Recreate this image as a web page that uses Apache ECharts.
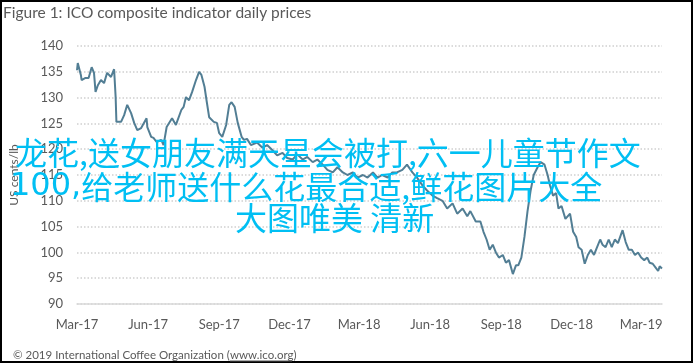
<!DOCTYPE html>
<html>
<head>
<meta charset="utf-8">
<script src="https://cdn.jsdelivr.net/npm/echarts@6/dist/echarts.min.js"></script>
<style>
html,body{margin:0;padding:0;background:#fff;}
#chart{width:695px;height:364px;}
</style>
</head>
<body>
<div id="chart"></div>
<script>
// ---- data ----
const titleText = 'Figure 1: ICO composite indicator daily prices';
const yAxisName = 'US cents/lb';
const footerText = '© 2019 International Coffee Organization (';
const footerLink = 'www.ico.org';
const overlayLine1 = '龙花,送女朋友满天星会被打,六一儿童节作文';
const overlayLine2a = '100,';
const overlayLine2b = '给老师送什么花最合适,鲜花图片大全';
const overlayLine3 = '大图唯美 清新';

const tickDates = ['2017-03-01','2017-06-01','2017-09-01','2017-12-01','2018-03-01','2018-06-01','2018-09-01','2018-12-01','2019-03-01'];
const tickLabels = ['Mar-17','Jun-17','Sep-17','Dec-17','Mar-18','Jun-18','Sep-18','Dec-18','Mar-19'];
const yMin = 90, yMax = 140, yStep = 5;

const dates = [
'2017-03-01','2017-03-02','2017-03-06','2017-03-07','2017-03-12','2017-03-16','2017-03-20','2017-03-23','2017-03-25','2017-03-28',
'2017-04-01','2017-04-05','2017-04-09','2017-04-14','2017-04-18','2017-04-20','2017-04-21','2017-04-27','2017-05-01','2017-05-05',
'2017-05-10','2017-05-14','2017-05-18','2017-05-23','2017-05-30','2017-05-31','2017-06-05','2017-06-08','2017-06-12','2017-06-18',
'2017-06-21','2017-06-25','2017-07-02','2017-07-07','2017-07-14','2017-07-17','2017-07-20','2017-07-24','2017-07-28','2017-08-02',
'2017-08-06','2017-08-09','2017-08-13','2017-08-16','2017-08-19','2017-08-25','2017-08-29','2017-09-01','2017-09-05','2017-09-10',
'2017-09-14','2017-09-17','2017-09-21','2017-09-25','2017-09-30','2017-10-03','2017-10-07','2017-10-12','2017-10-20','2017-10-27',
'2017-11-02','2017-11-09','2017-11-15','2017-11-22','2017-11-28','2017-12-05','2017-12-11','2017-12-18','2017-12-24','2017-12-31',
'2018-01-06','2018-01-13','2018-01-19','2018-01-26','2018-02-01','2018-02-08','2018-02-14','2018-02-21','2018-02-27','2018-03-06',
'2018-03-12','2018-03-19','2018-03-25','2018-03-31','2018-04-07','2018-04-13','2018-04-19','2018-04-26','2018-05-02','2018-05-09',
'2018-05-15','2018-05-22','2018-05-28','2018-06-04','2018-06-10','2018-06-17','2018-06-23','2018-06-30','2018-07-06','2018-07-13',
'2018-07-19','2018-07-23','2018-07-30','2018-08-05','2018-08-09','2018-08-13','2018-08-17','2018-08-21','2018-08-25','2018-08-29',
'2018-09-03','2018-09-07','2018-09-11','2018-09-16','2018-09-20','2018-09-23','2018-09-27','2018-10-01','2018-10-05','2018-10-09',
'2018-10-13','2018-10-18','2018-10-22','2018-10-27','2018-10-31','2018-11-03','2018-11-07','2018-11-11','2018-11-14','2018-11-18',
'2018-11-23','2018-11-29','2018-12-03','2018-12-07','2018-12-10','2018-12-14','2018-12-18','2018-12-22','2018-12-26','2018-12-30',
'2019-01-03','2019-01-07','2019-01-10','2019-01-14','2019-01-18','2019-01-22','2019-01-26','2019-01-30','2019-02-03','2019-02-05',
'2019-02-09','2019-02-13','2019-02-17','2019-02-21','2019-02-25','2019-03-01','2019-03-05','2019-03-09','2019-03-12','2019-03-16',
'2019-03-20','2019-03-23','2019-03-25','2019-03-28'
];
const prices = [
135.3,136.7,134.4,133.4,133.8,133.8,135.9,134.8,131.1,132.4,
133.4,132.8,134.8,134.0,135.5,130.1,125.3,125.3,126.6,128.6,
127.0,125.1,123.7,124.1,126.0,124.3,122.4,122.2,121.4,121.8,
120.8,124.3,126.0,124.7,127.6,128.2,130.1,129.5,131.1,133.4,
135.0,134.4,132.1,129.1,126.2,125.3,125.1,123.1,122.4,124.7,
128.6,129.1,128.2,125.1,122.4,121.8,122.0,120.8,121.3,120.3,
120.8,119.8,118.8,119.3,118.3,118.0,119.0,118.0,118.5,117.5,
118.0,117.0,116.0,115.5,116.5,115.5,115.0,115.5,114.5,115.0,
114.5,115.5,114.5,115.0,114.5,115.5,115.5,116.0,117.0,115.5,
114.5,113.0,112.0,111.0,110.5,110.0,108.5,109.5,107.5,108.5,
107.0,108.0,106.0,106.0,104.0,102.5,100.5,101.5,100.0,99.0,
99.5,98.0,98.5,95.8,97.5,97.5,99.0,103.0,108.0,112.0,
115.0,116.5,117.5,117.0,115.0,113.0,111.0,111.5,108.5,109.0,
106.5,107.5,104.0,103.0,101.0,100.5,97.8,99.5,100.5,99.5,
101.0,102.5,101.5,101.0,102.5,101.0,102.5,101.8,103.5,104.3,
102.0,100.5,100.5,99.5,100.0,99.0,98.5,99.0,98.0,97.8,
97.0,96.4,97.3,96.9
];

// ---- chart ----
function toTime(s){ const p = s.split('-'); return Date.UTC(+p[0], +p[1]-1, +p[2]); }
const tickTimes = tickDates.map(toTime);
const seriesData = dates.map((d,i)=>[toTime(d), prices[i]]);

const gray = '#595959';
const latin = 'Lato, "Open Sans", sans-serif';
const cyan = '#00BFF3';

const chart = echarts.init(document.getElementById('chart'), null, {renderer:'canvas'});
chart.setOption({
  animation:false,
  backgroundColor:'#ffffff',
  grid:{left:77, right:33, top:46, bottom:60, containLabel:false},
  xAxis:{
    type:'value',
    min: toTime(dates[0]),
    max: toTime(dates[dates.length-1]),
    axisLine:{show:true, lineStyle:{color:'#d9d9d9', width:1.5}},
    axisTick:{show:false},
    splitLine:{show:false},
    axisLabel:{
      customValues: tickTimes,
      margin:14,
      color:gray, fontFamily:latin, fontSize:13,
      formatter:function(v){ const i = tickTimes.indexOf(v); return i>=0 ? tickLabels[i] : ''; }
    }
  },
  yAxis:{
    type:'value', min:yMin, max:yMax, interval:yStep,
    name:yAxisName, nameLocation:'middle', nameGap:57, nameRotate:90,
    nameTextStyle:{color:gray, fontFamily:latin, fontSize:12},
    axisLine:{show:false}, axisTick:{show:false},
    axisLabel:{color:gray, fontFamily:latin, fontSize:13, margin:14},
    splitLine:{show:true, lineStyle:{color:'#d0d0d0', width:1.5, type:[1.5,2]}}
  },
  series:[{
    type:'line', data:seriesData, showSymbol:false, symbol:'none',
    lineStyle:{color:'#527E94', width:2}, z:2
  }],
  graphic:[
    {type:'rect', shape:{x:1, y:1, width:691, height:361}, style:{fill:'none', stroke:'#000', lineWidth:2}, z:100},
    {type:'text', left:3, top:5, style:{text:titleText, fill:gray, font:'15.5px Lato, sans-serif'}, z:100},
    {type:'text', left:13, top:349, style:{text:footerText, fill:gray, font:'11.5px Lato, sans-serif'}, z:100},
    {type:'text', left:230, top:349, style:{text:footerLink + ')', fill:gray, font:'11.5px Lato, sans-serif'}, z:100},
    {type:'line', shape:{x1:230, y1:361, x2:292, y2:361}, style:{stroke:gray, lineWidth:1}, z:100},
    {type:'text', x:15, y:153, style:{text:overlayLine1, fill:cyan, font:'32px "Noto Sans CJK SC"', textVerticalAlign:'middle'}, z:200},
    {type:'text', x:10, y:187, style:{text:'{d|' + overlayLine2a + '}{c|' + overlayLine2b + '}', textVerticalAlign:'middle',
      rich:{
        d:{fill:cyan, fontSize:32, fontFamily:'DejaVu Sans'},
        c:{fill:cyan, fontSize:32, fontFamily:'Noto Sans CJK SC'}
      }}, z:200},
    {type:'text', x:235, y:218, style:{text:overlayLine3, fill:cyan, font:'32px "Noto Sans CJK SC"', textVerticalAlign:'middle'}, z:200}
  ]
});
</script>
</body>
</html>
